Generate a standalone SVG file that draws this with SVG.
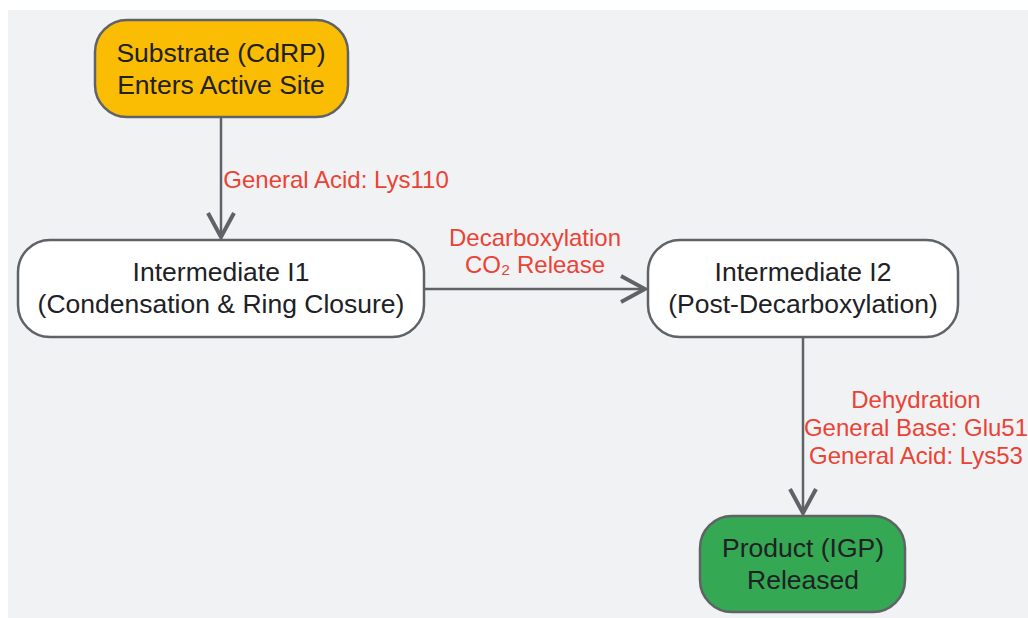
<svg xmlns="http://www.w3.org/2000/svg" width="1028" height="618" viewBox="0 0 1028 618">
<style>
.node rect{stroke:#5f6368;stroke-width:2.5}
.nt{font-family:"Liberation Sans",Arial,sans-serif;font-size:26.5px;fill:#202124;text-anchor:middle}
.lbl{font-family:"Liberation Sans",Arial,sans-serif;font-size:24px;fill:#ea4335;text-anchor:middle}
.edge{stroke:#5f6368;stroke-width:2.5;fill:none}
</style>
<defs>
<marker id="arr" viewBox="0 0 30 30" refX="26" refY="15" markerWidth="30" markerHeight="30" markerUnits="userSpaceOnUse" orient="auto">
<path d="M2,2 L26,15 L2,28" fill="none" stroke="#5f6368" stroke-width="4" stroke-linejoin="miter"/>
</marker>
</defs>
<rect x="8" y="10" width="1020" height="608" fill="#f1f2f4"/>
<g id="connectors">
<line class="edge" x1="221" y1="117" x2="221" y2="237" marker-end="url(#arr)"/>
<line class="edge" x1="424" y1="289" x2="645" y2="289" marker-end="url(#arr)"/>
<line class="edge" x1="803" y1="337" x2="803" y2="513" marker-end="url(#arr)"/>
<text class="lbl" x="336" y="188">General Acid: Lys110</text>
<text class="lbl" x="535" y="246">Decarboxylation</text>
<text class="lbl" x="535" y="273">CO₂ Release</text>
<text class="lbl" x="916" y="408">Dehydration</text>
<text class="lbl" x="916" y="436">General Base: Glu51</text>
<text class="lbl" x="916" y="464">General Acid: Lys53</text>
</g>
<g id="substrate" class="node">
<rect x="95" y="20" width="253" height="97" rx="32" fill="#fbbc04"/>
<text class="nt" x="221" y="62">Substrate (CdRP)</text>
<text class="nt" x="221" y="94">Enters Active Site</text>
</g>
<g id="i1" class="node">
<rect x="18" y="240" width="406" height="97" rx="32" fill="#ffffff"/>
<text class="nt" x="221" y="281">Intermediate I1</text>
<text class="nt" x="221" y="313">(Condensation &amp; Ring Closure)</text>
</g>
<g id="i2" class="node">
<rect x="648" y="240" width="310" height="97" rx="32" fill="#ffffff"/>
<text class="nt" x="803" y="281">Intermediate I2</text>
<text class="nt" x="803" y="313">(Post-Decarboxylation)</text>
</g>
<g id="product" class="node">
<rect x="700" y="516" width="205" height="96" rx="32" fill="#34a853"/>
<text class="nt" x="803" y="557">Product (IGP)</text>
<text class="nt" x="803" y="589">Released</text>
</g>
</svg>
